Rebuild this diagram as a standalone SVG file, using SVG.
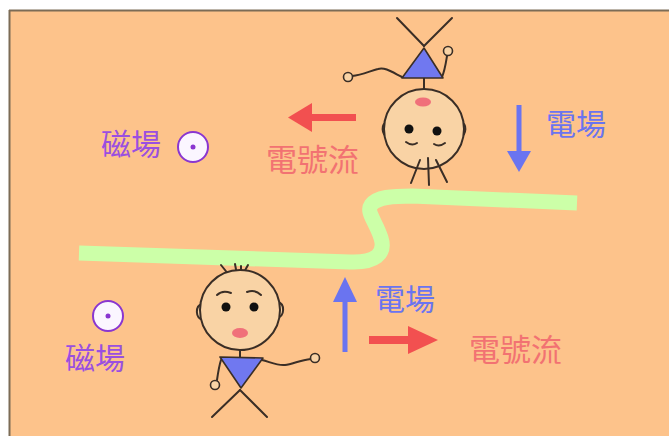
<svg xmlns="http://www.w3.org/2000/svg" width="669" height="436" viewBox="0 0 669 436">
  <style>
    .ink { fill: none; stroke: #3a2e26; stroke-width: 2; stroke-linecap: round; stroke-linejoin: round; }
    .face { fill: #f9d3a5; stroke: #3a2e26; stroke-width: 2; }
    .hand { fill: #f9d3a5; stroke: #3a2e26; stroke-width: 1.6; }
    .body { fill: #7078f0; stroke: #3a2e26; stroke-width: 1.6; stroke-linejoin: round; }
    .eye { fill: #111; }
    .cheek { fill: #f0707a; }
    .label { font-family: "Noto Sans CJK TC", "Noto Sans CJK SC", sans-serif; font-size: 30px; }
    .big { font-size: 31px; }
    .mag { fill: #9a4fe0; }
    .ef { fill: #6a74f0; }
    .cur { fill: #f27272; }
    .bsym { fill: #fbf6ff; stroke: #8a36d0; stroke-width: 2; }
  </style>

  <!-- backdrop -->
  <rect x="0" y="0" width="669" height="436" fill="#ffffff"/>
  <rect x="10" y="10" width="659" height="426" fill="#fdc38b"/>
  <line x1="9.5" y1="10" x2="9.5" y2="436" stroke="#7c6c56" stroke-width="2"/>
  <line x1="9" y1="10.5" x2="669" y2="10.5" stroke="#7c6c56" stroke-width="2"/>

  <!-- boundary band -->
  <path d="M79,253 L350,262 C375,263 386,254 381,238 C376,222 366,212 371,205 C377,197 392,196 412,196 L577,203"
        fill="none" stroke="#ccffa8" stroke-width="15" stroke-linecap="butt" stroke-linejoin="round"/>

  <!-- upper figure (upside down) -->
  <g id="figure-top">
    <line class="ink" x1="397" y1="18" x2="424" y2="46"/>
    <line class="ink" x1="452" y1="18" x2="424" y2="46"/>
    <path class="ink" d="M402,77 C392,72 385,67 378,69 C370,71 362,75 352,76"/>
    <circle class="hand" cx="348" cy="77" r="4.5"/>
    <path class="ink" d="M442,77 C445,70 446,62 447,56"/>
    <circle class="hand" cx="448" cy="51" r="4.5"/>
    <line class="ink" x1="424" y1="78" x2="424" y2="90"/>
    <polygon class="body" points="402,78 443,78 424,48"/>
    <path class="face" d="M387,122 C381,124 381,134 388,138"/>
    <path class="face" d="M461,122 C467,124 467,134 460,138"/>
    <circle class="face" cx="424" cy="129" r="40"/>
    <ellipse class="cheek" cx="423" cy="102" rx="8" ry="4.5"/>
    <circle class="eye" cx="409" cy="129" r="4.5"/>
    <circle class="eye" cx="437" cy="131" r="4.5"/>
    <path class="ink" d="M406,142 C410,145 414,145 417,143" stroke-width="1.4"/>
    <path class="ink" d="M434,144 C437,146 441,146 445,143" stroke-width="1.4"/>
    <line class="ink" x1="420" y1="160" x2="411" y2="183"/>
    <line class="ink" x1="428" y1="158" x2="429" y2="185"/>
    <line class="ink" x1="436" y1="160" x2="447" y2="182"/>
  </g>

  <!-- lower figure -->
  <g id="figure-bottom">
    <line class="ink" x1="221" y1="265" x2="229" y2="275"/>
    <line class="ink" x1="235" y1="264" x2="237" y2="275"/>
    <line class="ink" x1="241" y1="266" x2="241" y2="276"/>
    <line class="ink" x1="248" y1="265" x2="243" y2="274"/>
    <line class="ink" x1="240" y1="349" x2="240" y2="359"/>
    <path class="ink" d="M221,360 C219,366 218,373 217,380"/>
    <circle class="hand" cx="215" cy="385" r="4.5"/>
    <path class="ink" d="M262,360 C270,362 278,366 285,365 C293,364 300,360 311,359"/>
    <circle class="hand" cx="315" cy="358" r="4.5"/>
    <line class="ink" x1="240" y1="390" x2="212" y2="417"/>
    <line class="ink" x1="240" y1="390" x2="267" y2="417"/>
    <polygon class="body" points="220,357 263,358 241,388"/>
    <path class="face" d="M202,304 C195,306 195,318 203,320"/>
    <path class="face" d="M278,302 C285,304 285,316 277,318"/>
    <circle class="face" cx="240" cy="310" r="40"/>
    <path class="ink" d="M217,295 C221,291 226,291 231,293" stroke-width="1.4"/>
    <path class="ink" d="M247,292 C252,290 257,291 261,295" stroke-width="1.4"/>
    <circle class="eye" cx="226" cy="307" r="4.5"/>
    <circle class="eye" cx="254" cy="307" r="4.5"/>
    <ellipse class="cheek" cx="240" cy="333" rx="8" ry="5"/>
  </g>

  <!-- magnetic field, out of the page -->
  <g id="b-top">
    <circle class="bsym" cx="193" cy="147" r="15"/>
    <circle cx="193" cy="147" r="2.5" fill="#8a36d0"/>
    <text class="label mag" x="101" y="155">磁場</text>
  </g>
  <g id="b-bottom">
    <circle class="bsym" cx="108" cy="316" r="15"/>
    <circle cx="108" cy="316" r="2.5" fill="#8a36d0"/>
    <text class="label mag" x="65" y="369">磁場</text>
  </g>

  <!-- field and flow arrows -->
  <g id="connectors">
    <rect x="309" y="114" width="47" height="7" fill="#f25050"/>
    <polygon points="288,117.5 312,103 312,132" fill="#f25050"/>
    <rect x="516.5" y="105" width="5" height="50" fill="#6a74f0"/>
    <polygon points="519,172 507,151 531,151" fill="#6a74f0"/>
    <rect x="342.5" y="298" width="5" height="54" fill="#6a74f0"/>
    <polygon points="345,277 333,302 357,302" fill="#6a74f0"/>
    <rect x="369" y="336" width="42" height="8" fill="#f25050"/>
    <polygon points="438,340 408,326 408,354" fill="#f25050"/>
  </g>

  <g id="labels">
    <text class="label big cur" x="266" y="171">電號流</text>
    <text class="label ef" x="546" y="135">電場</text>
    <text class="label ef" x="375" y="310">電場</text>
    <text class="label big cur" x="469" y="361">電號流</text>
  </g>
</svg>
